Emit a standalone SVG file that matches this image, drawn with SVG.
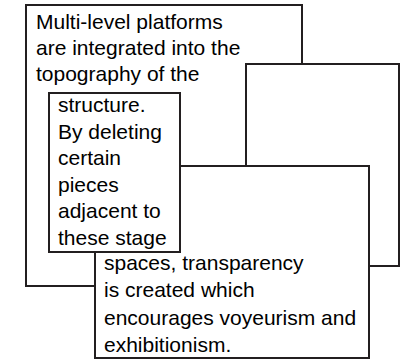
<svg xmlns="http://www.w3.org/2000/svg" width="403" height="360" viewBox="0 0 403 360">
<style>
.box{fill:#fff;stroke:#231f20;stroke-width:2}
.t{font-family:"Liberation Sans",Arial,sans-serif;font-size:21px;fill:#000}
</style>
<rect width="403" height="360" fill="#fff"/>
<g id="node1">
<rect class="box" x="26" y="5" width="276" height="281"/>
<text class="t" x="36" y="29">Multi-level platforms</text>
<text class="t" x="36" y="55">are integrated into the</text>
<text class="t" x="36" y="81">topography of the</text>
</g>
<g id="node2">
<rect class="box" x="246" y="64" width="153" height="202"/>
</g>
<g id="node4">
<rect class="box" x="95" y="166" width="274" height="192"/>
<text class="t" x="104" y="270">spaces, transparency</text>
<text class="t" x="104" y="297">is created which</text>
<text class="t" x="104" y="325">encourages voyeurism and</text>
<text class="t" x="104" y="352">exhibitionism.</text>
</g>
<g id="node3">
<rect class="box" x="49" y="93" width="131" height="159"/>
<text class="t" x="58" y="112">structure.</text>
<text class="t" x="58" y="138.5">By deleting</text>
<text class="t" x="58" y="165">certain</text>
<text class="t" x="58" y="191.5">pieces</text>
<text class="t" x="58" y="218">adjacent to</text>
<text class="t" x="58" y="244.5">these stage</text>
</g>
<g id="connectors"></g>
</svg>
